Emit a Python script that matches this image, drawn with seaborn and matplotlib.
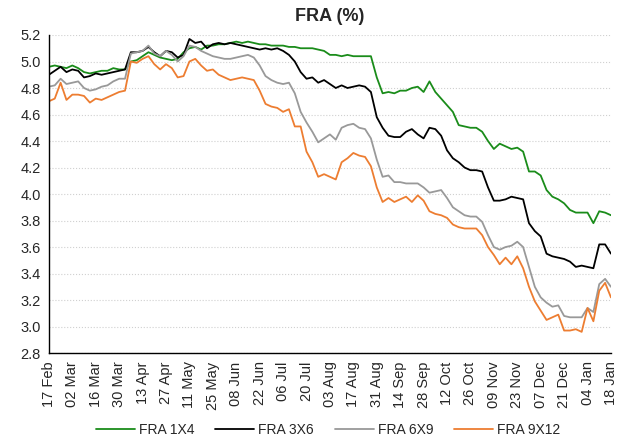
import numpy as np
import pandas as pd
import matplotlib
matplotlib.use("Agg")
import matplotlib.pyplot as plt
import seaborn as sns

# --- Data (4 samples per 2-week tick interval) ---
tick_labels = ["17 Feb", "02 Mar", "16 Mar", "30 Mar", "13 Apr", "27 Apr", "11 May",
               "25 May", "08 Jun", "22 Jun", "06 Jul", "20 Jul", "03 Aug", "17 Aug",
               "31 Aug", "14 Sep", "28 Sep", "12 Oct", "26 Oct", "09 Nov", "23 Nov",
               "07 Dec", "21 Dec", "04 Jan", "18 Jan"]
samples_per_tick = 4

fra_1x4 = [4.96, 4.97, 4.96, 4.95, 4.97, 4.95, 4.92, 4.91, 4.92, 4.93, 4.93, 4.95,
           4.94, 4.94, 5.00, 5.01, 5.04, 5.07, 5.05, 5.03, 5.02, 5.01, 5.02, 5.07,
           5.10, 5.11, 5.09, 5.12, 5.12, 5.13, 5.13, 5.14, 5.15, 5.14, 5.15, 5.14,
           5.13, 5.13, 5.12, 5.12, 5.12, 5.11, 5.11, 5.10, 5.10, 5.10, 5.09, 5.08,
           5.05, 5.05, 5.04, 5.05, 5.04, 5.04, 5.04, 5.04, 4.88, 4.76, 4.77, 4.76,
           4.78, 4.78, 4.80, 4.81, 4.77, 4.85, 4.77, 4.72, 4.67, 4.62, 4.52, 4.51,
           4.50, 4.50, 4.47, 4.40, 4.34, 4.38, 4.36, 4.34, 4.35, 4.32, 4.17, 4.17,
           4.14, 4.03, 3.98, 3.96, 3.93, 3.88, 3.86, 3.86, 3.86, 3.78, 3.87, 3.86,
           3.84]

fra_3x6 = [4.90, 4.93, 4.96, 4.92, 4.94, 4.93, 4.88, 4.89, 4.91, 4.90, 4.91, 4.92,
           4.93, 4.94, 5.07, 5.07, 5.08, 5.11, 5.07, 5.04, 5.08, 5.07, 5.03, 5.05,
           5.17, 5.14, 5.15, 5.10, 5.13, 5.14, 5.13, 5.14, 5.13, 5.12, 5.11, 5.10,
           5.09, 5.10, 5.09, 5.10, 5.08, 5.05, 5.00, 4.92, 4.87, 4.88, 4.84, 4.86,
           4.83, 4.80, 4.82, 4.80, 4.81, 4.82, 4.81, 4.77, 4.58, 4.50, 4.44, 4.43,
           4.43, 4.47, 4.49, 4.45, 4.42, 4.50, 4.49, 4.44, 4.33, 4.27, 4.24, 4.20,
           4.18, 4.18, 4.17, 4.05, 3.95, 3.95, 3.96, 3.98, 3.97, 3.96, 3.78, 3.72,
           3.68, 3.55, 3.53, 3.52, 3.51, 3.49, 3.45, 3.46, 3.45, 3.44, 3.62, 3.62,
           3.55]

fra_6x9 = [4.81, 4.82, 4.87, 4.83, 4.84, 4.85, 4.80, 4.78, 4.79, 4.81, 4.82, 4.85,
           4.87, 4.87, 5.06, 5.07, 5.08, 5.12, 5.06, 5.04, 5.08, 5.05, 5.00, 5.04,
           5.12, 5.11, 5.08, 5.06, 5.04, 5.03, 5.02, 5.02, 5.03, 5.04, 5.05, 5.03,
           4.97, 4.89, 4.86, 4.84, 4.83, 4.84, 4.76, 4.62, 4.54, 4.47, 4.39, 4.42,
           4.45, 4.41, 4.50, 4.52, 4.53, 4.50, 4.49, 4.42, 4.26, 4.13, 4.14, 4.09,
           4.09, 4.08, 4.08, 4.08, 4.05, 4.01, 4.02, 4.03, 3.97, 3.90, 3.87, 3.84,
           3.83, 3.83, 3.79, 3.69, 3.60, 3.58, 3.60, 3.61, 3.64, 3.60, 3.45, 3.30,
           3.22, 3.18, 3.15, 3.16, 3.08, 3.07, 3.07, 3.07, 3.14, 3.11, 3.32, 3.36,
           3.30]

fra_9x12 = [4.70, 4.72, 4.84, 4.71, 4.75, 4.75, 4.74, 4.69, 4.72, 4.71, 4.73, 4.75,
            4.77, 4.78, 5.00, 4.99, 5.02, 5.04, 4.98, 4.94, 4.98, 4.95, 4.88, 4.89,
            5.00, 5.02, 4.97, 4.93, 4.94, 4.90, 4.88, 4.86, 4.87, 4.88, 4.87, 4.86,
            4.78, 4.68, 4.66, 4.65, 4.62, 4.64, 4.51, 4.51, 4.32, 4.24, 4.13, 4.15,
            4.13, 4.11, 4.24, 4.27, 4.31, 4.29, 4.28, 4.21, 4.05, 3.94, 3.97, 3.94,
            3.96, 3.98, 3.94, 3.99, 3.95, 3.87, 3.85, 3.84, 3.82, 3.77, 3.75, 3.74,
            3.74, 3.74, 3.69, 3.60, 3.54, 3.47, 3.52, 3.47, 3.53, 3.44, 3.30, 3.19,
            3.12, 3.05, 3.07, 3.09, 2.97, 2.97, 2.98, 2.96, 3.14, 3.04, 3.27, 3.33,
            3.22]

series_names = ["FRA 1X4", "FRA 3X6", "FRA 6X9", "FRA 9X12"]
series_colors = ["#1a8c1a", "#000000", "#999999", "#ed7d31"]

# --- Long-format table for seaborn ---
pos = np.arange(len(fra_1x4)) / samples_per_tick
frames = []
for name, vals in zip(series_names, [fra_1x4, fra_3x6, fra_6x9, fra_9x12]):
    frames.append(pd.DataFrame({"pos": pos, "value": vals, "series": name}))
df = pd.concat(frames, ignore_index=True)

sns.set_style("white")
plt.rcParams["font.family"] = ["Liberation Sans", "DejaVu Sans"]

fig = plt.figure(figsize=(6.19, 4.43), dpi=100)
ax = fig.add_axes([0.079, 0.203, 0.908, 0.718])

sns.lineplot(data=df, x="pos", y="value", hue="series", hue_order=series_names,
             palette=dict(zip(series_names, series_colors)), linewidth=1.3,
             legend=False, ax=ax)

ax.set_xlim(0, len(tick_labels) - 1)
ax.set_ylim(2.8, 5.2)
ax.set_xticks(range(len(tick_labels)))
ax.set_xticklabels(tick_labels, rotation=90, fontsize=10.5)
ax.set_yticks(np.arange(2.8, 5.21, 0.2))
ax.set_yticklabels([f"{v:.1f}" for v in np.arange(2.8, 5.21, 0.2)], fontsize=10.5)
ax.set_xlabel("")
ax.set_ylabel("")
ax.tick_params(axis="both", direction="out", length=4, width=0.8, color="black", pad=2)

ax.grid(axis="y", color="#d0d0d0", linestyle=":", linewidth=0.8)
ax.grid(axis="x", visible=False)
for side in ["top", "right"]:
    ax.spines[side].set_visible(False)
for side in ["left", "bottom"]:
    ax.spines[side].set_color("black")
    ax.spines[side].set_linewidth(1.0)

ax.set_title("FRA (%)", fontsize=13, fontweight="bold", pad=10)

handles = [plt.Line2D([], [], color=c, lw=1.3) for c in series_colors]
fig.legend(handles, series_names, loc="center", bbox_to_anchor=(0.53, 0.03),
           ncol=4, frameon=False, fontsize=10, handlelength=2.8,
           handletextpad=0.3, columnspacing=1.5)

fig.savefig("out.png", dpi=100)
